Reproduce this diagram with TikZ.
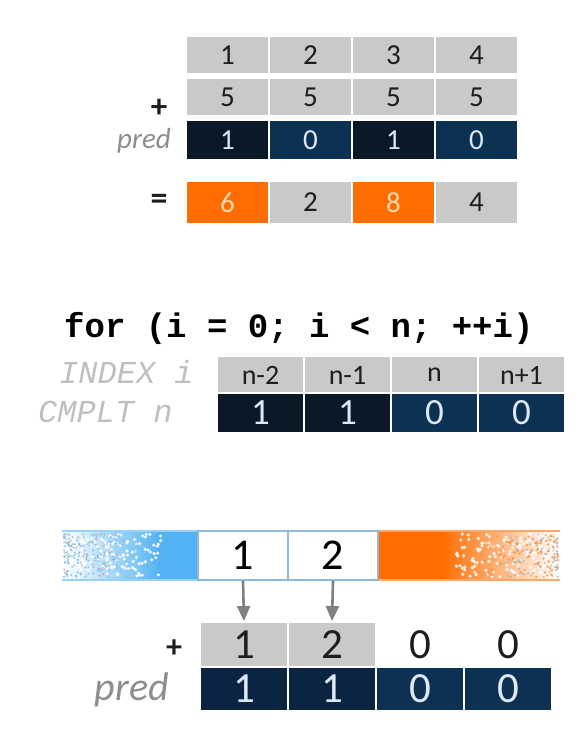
\documentclass[tikz,border=0pt]{standalone}
\usepackage{fontspec}
\setmainfont{Carlito}
\newfontfamily\monof{Liberation Mono}
\usetikzlibrary{arrows.meta}
\definecolor{lg}{HTML}{C9C9C9}
\definecolor{navyA}{HTML}{0A1828}
\definecolor{navyB}{HTML}{0C3152}
\definecolor{navyC}{HTML}{0A2442}
\definecolor{orng}{HTML}{FF6C00}
\definecolor{sky}{HTML}{52B2F2}
\definecolor{darktxt}{HTML}{1E1E1E}
\definecolor{lighttxt}{HTML}{DCE8F4}
\definecolor{peach}{HTML}{F8D6AE}
\definecolor{labgray}{HTML}{8E8E8E}
\definecolor{codegray}{HTML}{BFBFBF}
\definecolor{boxedge}{HTML}{8DB9DC}
\definecolor{arrgray}{HTML}{808080}
\definecolor{speckgray}{HTML}{9AA4AE}
\tikzset{
  cellbase/.style={draw=white, line width=2pt, inner sep=0pt, anchor=center},
  lgcell/.style={cellbase, fill=lg, text=darktxt},
  dkA/.style={cellbase, fill=navyA, text=lighttxt},
  dkB/.style={cellbase, fill=navyB, text=lighttxt},
  dkC/.style={cellbase, fill=navyC, text=lighttxt},
  orcell/.style={cellbase, fill=orng, text=peach},
  plaincell/.style={inner sep=0pt, anchor=center, text=darktxt},
  toprow/.style={minimum width=83pt, font=\fontsize{29}{30}\selectfont},
  midrow/.style={minimum width=87pt},
  botrow/.style={minimum width=88pt, font=\fontsize{43}{44}\selectfont},
  oplabel/.style={inner sep=0pt, text=darktxt, font=\fontsize{34}{36}\selectfont\bfseries},
  predlabel/.style={inner sep=0pt, text=labgray, font=\itshape},
  codelabel/.style={inner sep=0pt, text=codegray, font=\monof\itshape\fontsize{32}{33}\selectfont},
  flowarrow/.style={draw=arrgray, line width=2.6pt, -{Triangle[width=13pt,length=15pt]}},
}
\begin{document}
\begin{tikzpicture}[x=1pt,y=-1pt]
\useasboundingbox (0,0) rectangle (588,735);
\fill[white] (0,0) rectangle (588,735);

% ---------- top block ----------
\foreach \v [count=\i] in {1,2,3,4}
  \node[lgcell, toprow, minimum height=38pt] (a\i) at ({227.5+83*(\i-1)},55) {\v};
\foreach \v [count=\i] in {5,5,5,5}
  \node[lgcell, toprow, minimum height=38pt] (b\i) at ({227.5+83*(\i-1)},97.5) {\v};
\node[dkA, toprow, minimum height=40pt] (p1) at (227.5,140) {1};
\node[dkB, toprow, minimum height=40pt] (p2) at (310.5,140) {0};
\node[dkA, toprow, minimum height=40pt] (p3) at (393.5,140) {1};
\node[dkB, toprow, minimum height=40pt] (p4) at (476.5,140) {0};
\node[orcell, toprow, minimum height=43pt] (r1) at (227.5,202.5) {6};
\node[lgcell, toprow, minimum height=43pt] (r2) at (310.5,202.5) {2};
\node[orcell, toprow, minimum height=43pt] (r3) at (393.5,202.5) {8};
\node[lgcell, toprow, minimum height=43pt] (r4) at (476.5,202.5) {4};
\node[oplabel, font=\fontsize{33}{34}\selectfont\bfseries] (plusA) at (159,108) {+};
\node[predlabel, font=\itshape\fontsize{29}{30}\selectfont, anchor=base east] (predA) at (171,149) {pred};
\node[oplabel] (eqA) at (159,202) {=};

% ---------- middle block ----------
\node[inner sep=0pt, anchor=base west, font=\monof\bfseries\fontsize{34}{36}\selectfont] (forline) at (64,337) {for (i = 0; i < n; ++i)};
\foreach \v [count=\i] in {n-2,n-1,n,n+1}
  \node[lgcell, midrow, minimum height=39pt, font=\fontsize{28}{30}\selectfont] (ix\i) at ({260.5+87*(\i-1)},375) {\v};
\node[dkA, midrow, minimum height=40pt, font=\fontsize{37}{38}\selectfont] (cm1) at (260.5,413) {1};
\node[dkA, midrow, minimum height=40pt, font=\fontsize{37}{38}\selectfont] (cm2) at (347.5,413) {1};
\node[dkB, midrow, minimum height=40pt, font=\fontsize{37}{38}\selectfont] (cm3) at (434.5,413) {0};
\node[dkB, midrow, minimum height=40pt, font=\fontsize{37}{38}\selectfont] (cm4) at (521.5,413) {0};
\node[codelabel, anchor=base west] (idxlab) at (59,383) {INDEX i};
\node[codelabel, anchor=base west] (cmplab) at (38,422) {CMPLT n};

% ---------- bottom block ----------
% blue fading part
\shade[left color=white, right color=sky] (62,531) rectangle (160,580);
\fill[sky] (159.5,531) rectangle (198,580);
% orange fading part
\fill[orng] (378,531) rectangle (442,580);
\shade[left color=orng, right color=white] (441.5,531) rectangle (560,580);
\pgfmathsetseed{11}
\foreach \k in {1,...,170}{
  \pgfmathsetmacro{\xx}{62+100*(rnd^1.4)}
  \pgfmathsetmacro{\yy}{534+43*rnd}
  \fill[white, opacity=0.9] (\xx,\yy) circle (1.8pt);
}
\foreach \k in {1,...,90}{
  \pgfmathsetmacro{\xx}{64+80*(rnd^1.5)}
  \pgfmathsetmacro{\yy}{534+43*rnd}
  \fill[sky!70, opacity=0.8] (\xx,\yy) circle (1.4pt);
}
\foreach \k in {1,...,90}{
  \pgfmathsetmacro{\xx}{64+60*(rnd^1.6)}
  \pgfmathsetmacro{\yy}{534+43*rnd}
  \fill[speckgray, opacity=0.7] (\xx,\yy) circle (1.1pt);
}
\foreach \k in {1,...,170}{
  \pgfmathsetmacro{\xx}{560-105*(rnd^1.4)}
  \pgfmathsetmacro{\yy}{534+43*rnd}
  \fill[white, opacity=0.85] (\xx,\yy) circle (1.8pt);
}
\foreach \k in {1,...,90}{
  \pgfmathsetmacro{\xx}{558-80*(rnd^1.5)}
  \pgfmathsetmacro{\yy}{534+43*rnd}
  \fill[orng!75, opacity=0.8] (\xx,\yy) circle (1.4pt);
}
\foreach \k in {1,...,80}{
  \pgfmathsetmacro{\xx}{558-55*(rnd^1.6)}
  \pgfmathsetmacro{\yy}{534+43*rnd}
  \fill[speckgray, opacity=0.65] (\xx,\yy) circle (1.1pt);
}
\fill[white] (50,520) rectangle (62,590);
\fill[white] (560,520) rectangle (575,590);
\draw[color=sky!60, line width=1.5pt] (62,531) -- (198,531) (62,580) -- (198,580);
\draw[color=orng!60, line width=1.5pt] (378,531) -- (560,531) (378,580) -- (560,580);
\node[draw=boxedge, line width=1.5pt, fill=white, minimum width=90pt, minimum height=49pt, inner sep=0pt, font=\fontsize{44}{46}\selectfont] (s1) at (243,555.5) {1};
\node[draw=boxedge, line width=1.5pt, fill=white, minimum width=90pt, minimum height=49pt, inner sep=0pt, font=\fontsize{44}{46}\selectfont] (s2) at (333,555.5) {2};

\node[lgcell, botrow, minimum height=46pt] (c1) at (244,645) {1};
\node[lgcell, botrow, minimum height=46pt] (c2) at (332,645) {2};
\node[plaincell, botrow, minimum height=46pt] (c3) at (420,645) {0};
\node[plaincell, botrow, minimum height=46pt] (c4) at (508,645) {0};
\node[dkC, botrow, minimum height=44pt] (d1) at (244,689) {1};
\node[dkC, botrow, minimum height=44pt] (d2) at (332,689) {1};
\node[dkB, botrow, minimum height=44pt] (d3) at (420,689) {0};
\node[dkB, botrow, minimum height=44pt] (d4) at (508,689) {0};
\node[oplabel, font=\fontsize{32}{34}\selectfont\bfseries] (plusB) at (174,649) {+};
\node[predlabel, font=\itshape\fontsize{40}{42}\selectfont, anchor=base east] (predB) at (169,700) {pred};

\draw[flowarrow] (s1.south) -- (c1.north);
\draw[flowarrow] (s2.south) -- (c2.north);
\end{tikzpicture}
\end{document}
